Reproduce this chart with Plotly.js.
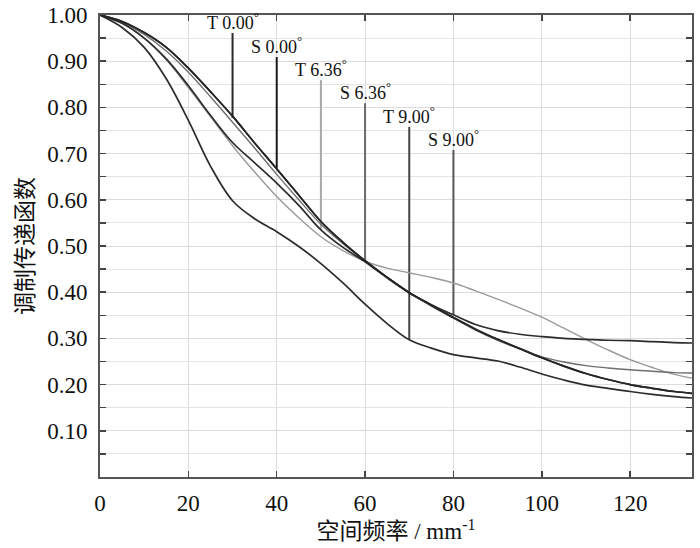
<!DOCTYPE html>
<html>
<head>
<meta charset="utf-8">
<script src="https://cdn.plot.ly/plotly-3.0.1.min.js"></script>
<style>html,body{margin:0;padding:0;background:#fff;}</style>
</head>
<body>
<div id="chart" style="width:700px;height:548px;"></div>
<script>
// spatial frequency (mm^-1)
var freq = [0,5,10,15,20,25,30,35,40,45,50,55,60,65,70,75,80,85,90,95,100,105,110,115,120,125,130,134];
// MTF on axis (T 0.00° and S 0.00° coincide)
var mtf0 = [1.000,0.986,0.962,0.930,0.885,0.834,0.781,0.723,0.667,0.610,0.553,0.508,0.468,0.432,0.399,0.372,0.345,0.320,0.298,0.278,0.258,0.240,0.224,0.211,0.200,0.192,0.185,0.181];
var mtfT636 = [1.000,0.982,0.950,0.903,0.843,0.780,0.717,0.660,0.607,0.561,0.520,0.490,0.467,0.452,0.442,0.432,0.420,0.403,0.385,0.366,0.346,0.322,0.298,0.275,0.254,0.237,0.222,0.214];
var mtfS636 = [1.000,0.984,0.958,0.922,0.876,0.823,0.768,0.712,0.655,0.600,0.547,0.505,0.468,0.432,0.399,0.370,0.344,0.318,0.296,0.277,0.260,0.249,0.241,0.236,0.232,0.229,0.226,0.225];
var mtfT900 = [1.000,0.973,0.930,0.862,0.772,0.673,0.598,0.559,0.531,0.499,0.462,0.420,0.374,0.332,0.297,0.279,0.265,0.258,0.251,0.238,0.223,0.210,0.199,0.192,0.185,0.179,0.174,0.171];
var mtfS900 = [1.000,0.982,0.950,0.905,0.847,0.783,0.724,0.680,0.636,0.588,0.535,0.497,0.466,0.431,0.399,0.373,0.351,0.330,0.317,0.309,0.304,0.300,0.298,0.296,0.295,0.293,0.291,0.290];

// field labels with their marker lines
var labelText = ["T 0.00", "S 0.00", "T 6.36", "S 6.36", "T 9.00", "S 9.00"];
var labelX = [30, 40, 50, 60, 70, 80];
var labelTop = [0.961, 0.909, 0.859, 0.809, 0.758, 0.708];
var labelBottom = [0.777, 0.669, 0.535, 0.470, 0.297, 0.351];
var labelLineColor = ["#2a2a2a", "#1a1a1a", "#a8a8a8", "#6a6a6a", "#444444", "#555555"];

var yTickVals = [0.1,0.2,0.3,0.4,0.5,0.6,0.7,0.8,0.9,1.0];
var yTickText = ["0.10","0.20","0.30","0.40","0.50","0.60","0.70","0.80","0.90","1.00"];

var serif = "Liberation Serif, Noto Sans CJK SC, serif";

var curves = [
  {y: mtfT636, color: "#9a9a9a", w: 1.4, name: "T 6.36°"},
  {y: mtfS636, color: "#6e6e6e", w: 1.4, name: "S 6.36°"},
  {y: mtfS900, color: "#2c2c2c", w: 1.7, name: "S 9.00°"},
  {y: mtfT900, color: "#2c2c2c", w: 1.7, name: "T 9.00°"},
  {y: mtf0, color: "#262626", w: 1.7, name: "S 0.00°"},
  {y: mtf0, color: "#262626", w: 1.7, name: "T 0.00°"}
];

var traces = [];
for (var i = 0; i < labelX.length; i++) {
  traces.push({
    x: [labelX[i], labelX[i]],
    y: [labelBottom[i], labelTop[i]],
    mode: "lines",
    line: {color: labelLineColor[i], width: 2},
    hoverinfo: "skip",
    showlegend: false
  });
}
curves.forEach(function(c) {
  traces.push({
    x: freq, y: c.y, mode: "lines", name: c.name,
    line: {color: c.color, width: c.w, shape: "spline", smoothing: 1},
    showlegend: false
  });
});

var annotations = labelText.map(function(t, i) {
  return {
    x: labelX[i], y: labelTop[i], xref: "x", yref: "y",
    text: t + "<sup>°</sup>", showarrow: false,
    xanchor: "center", yanchor: "bottom", yshift: -2,
    font: {family: serif, size: 18, color: "#111"}
  };
});

var layout = {
  width: 700, height: 548,
  margin: {l: 100, r: 8, t: 15, b: 71},
  paper_bgcolor: "#fff", plot_bgcolor: "#fff",
  showlegend: false,
  font: {family: serif, color: "#111"},
  xaxis: {
    range: [0, 134], tick0: 0, dtick: 20,
    ticks: "inside", ticklen: 6, tickwidth: 1.5, tickcolor: "#444",
    showline: true, linecolor: "#555", linewidth: 2, mirror: "ticks",
    showgrid: true, gridcolor: "#dcdcdc", gridwidth: 1,
    zeroline: false,
    tickfont: {family: serif, size: 23, color: "#111"},
    ticklabelstandoff: 4,
    title: {text: "空间频率 / mm<sup>-1</sup>", font: {family: serif, size: 23, color: "#111"}, standoff: 8}
  },
  yaxis: {
    range: [0, 1.0],
    tickmode: "array", tickvals: yTickVals, ticktext: yTickText,
    ticks: "inside", ticklen: 6, tickwidth: 1.5, tickcolor: "#444",
    showline: true, linecolor: "#555", linewidth: 2, mirror: "ticks",
    showgrid: true, gridcolor: "#dcdcdc", gridwidth: 1,
    zeroline: false,
    minor: {dtick: 0.05, tick0: 0, ticks: "inside", ticklen: 6, tickwidth: 1.5, tickcolor: "#444", showgrid: true, gridcolor: "#e4e4e4", gridwidth: 1},
    tickfont: {family: serif, size: 23, color: "#111"},
    ticklabelstandoff: 6,
    title: {text: "调制传递函数", font: {family: serif, size: 23, color: "#111"}, standoff: 7}
  },
  annotations: annotations
};

Plotly.newPlot("chart", traces, layout, {displayModeBar: false, staticPlot: true});
</script>
</body>
</html>
